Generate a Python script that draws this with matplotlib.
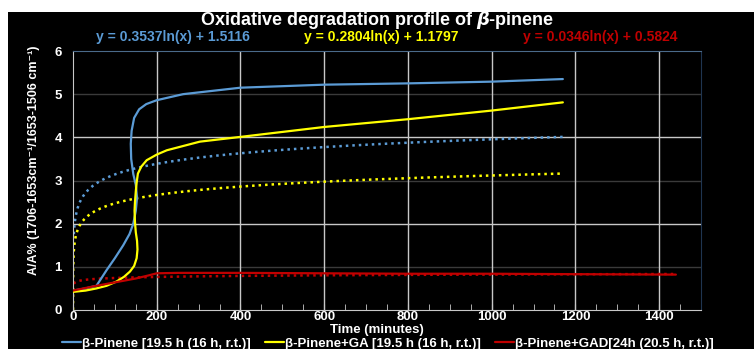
import numpy as np
import matplotlib
matplotlib.use("Agg")
import matplotlib.pyplot as plt
from matplotlib.patches import Rectangle
from matplotlib.ticker import MultipleLocator

plt.rcParams["font.family"] = ["Liberation Sans", "DejaVu Sans"]
plt.rcParams["font.weight"] = "bold"

# solid (smoothed) series
pinene_t = [0, 30, 56, 80, 100, 120, 135, 144, 150, 153, 150, 144, 139, 138, 140,
            146, 158, 175, 200, 263, 400, 600, 800, 1000, 1170]
pinene_y = [0.45, 0.5, 0.56, 0.92, 1.2, 1.5, 1.76, 2.0, 2.3, 2.6, 2.9, 3.15, 3.5,
            3.85, 4.15, 4.45, 4.65, 4.77, 4.86, 5.0, 5.15, 5.22, 5.25, 5.29, 5.35]

ga_t = [0, 30, 56, 80, 104, 122, 136, 146, 152, 154, 153, 150, 148, 147, 148, 150,
        152, 155, 163, 176, 200, 224, 303, 400, 600, 800, 1000, 1170]
ga_y = [0.42, 0.45, 0.5, 0.56, 0.66, 0.77, 0.89, 1.02, 1.2, 1.4, 1.6, 1.8, 2.04,
        2.3, 2.5, 2.75, 2.95, 3.16, 3.32, 3.47, 3.6, 3.7, 3.9, 4.01, 4.24, 4.42,
        4.62, 4.81]

gad_t = [0, 50, 100, 150, 180, 200, 250, 400, 600, 800, 1000, 1200, 1440]
gad_y = [0.45, 0.55, 0.64, 0.73, 0.8, 0.85, 0.86, 0.86, 0.85, 0.84, 0.84, 0.83, 0.82]

# logarithmic trendlines y = a*ln(x) + b as printed on the chart
trend_a = [0.3537, 0.2804, 0.0346]
trend_b = [1.5116, 1.1797, 0.5824]
trend_x0 = [2, 0.015, 2]
trend_x1 = [1170, 1170, 1440]

labels = ["β-Pinene [19.5 h (16 h, r.t.)]",
          "β-Pinene+GA [19.5 h (16 h, r.t.)]",
          "β-Pinene+GAD[24h (20.5 h, r.t.)]"]
colors = ["#5b9bd5", "#ffff00", "#c00000"]

W, H = 754, 349
fig = plt.figure(figsize=(W / 100, H / 100), dpi=100, facecolor="white")
fig.patches.append(Rectangle((8 / W, 0), 1, 1 - 12 / H, transform=fig.transFigure,
                             facecolor="black", edgecolor="none", zorder=-10))

ax = fig.add_axes((73 / W, 1 - 310 / H, 628 / W, 259 / H))
ax.set_facecolor("black")

for yv in [1, 3, 5]:
    ax.axhline(yv, color="#3a3a3a", lw=1, zorder=1)
for yv in [2, 4]:
    ax.axhline(yv, color="#c8c8c8", lw=1, zorder=1)
for xv in range(200, 1500, 200):
    ax.axvline(xv, color="#c8c8c8", lw=1, zorder=1)

series = [(pinene_t, pinene_y), (ga_t, ga_y), (gad_t, gad_y)]
handles = []
for i, (t, y) in enumerate(series):
    xs = np.geomspace(trend_x0[i], trend_x1[i], 400)
    ax.plot(xs, trend_a[i] * np.log(xs) + trend_b[i], color=colors[i], lw=1.8,
            linestyle=(0, (1, 1.6)), zorder=2)
for i, (t, y) in enumerate(series):
    ln, = ax.plot(t, y, color=colors[i], lw=1.6, zorder=3, solid_capstyle="round")
    handles.append(ln)

ax.set_xlim(0, 1500)
ax.set_ylim(0, 6)
ax.xaxis.set_major_locator(MultipleLocator(200))
ax.xaxis.set_minor_locator(MultipleLocator(50))
ax.yaxis.set_major_locator(MultipleLocator(1))
ax.tick_params(axis="x", which="both", direction="in", colors="#c8c8c8", length=4,
               labelcolor="white", labelsize=9.5, pad=1)
ax.tick_params(axis="y", length=0, labelcolor="white", labelsize=9.5, pad=8)
for lab in ax.get_xticklabels() + ax.get_yticklabels():
    lab.set_fontweight("bold")

ax.spines["top"].set_color("#4a6a8a")
ax.spines["right"].set_color("#1f3550")
ax.spines["left"].set_color("#c8c8c8")
ax.spines["bottom"].set_color("#c8c8c8")

ax.set_ylabel("A/A% (1706-1653cm⁻¹/1653-1506 cm⁻¹)", color="white",
              fontsize=9, fontweight="bold")
ax.yaxis.set_label_coords(-33 / 628, 0.58)
fig.text(0.5, 1 - 330 / H, "Time (minutes)", color="white", fontsize=9.5,
         fontweight="bold", ha="center", va="center")

fig.text(0.5, 1 - 20 / H, "Oxidative degradation profile of $\\beta$-pinene",
         color="white", fontsize=13, fontweight="bold", ha="center", va="center")
eq_x = [173, 381, 600]
for i in range(3):
    fig.text(eq_x[i] / W, 1 - 37 / H,
             f"y = {trend_a[i]:.4f}ln(x) + {trend_b[i]:.4f}", color=colors[i],
             fontsize=10, fontweight="bold", ha="center", va="center")

leg = fig.legend(handles, labels, ncol=3, loc="center",
                 bbox_to_anchor=(388 / W, 1 - 343.5 / H), frameon=False,
                 handlelength=1.4, handletextpad=0.1, columnspacing=1.1,
                 fontsize=9.5, borderaxespad=0)
for txt in leg.get_texts():
    txt.set_color("white")
    txt.set_fontweight("bold")

fig.savefig("out.png", dpi=100, facecolor=fig.get_facecolor())
